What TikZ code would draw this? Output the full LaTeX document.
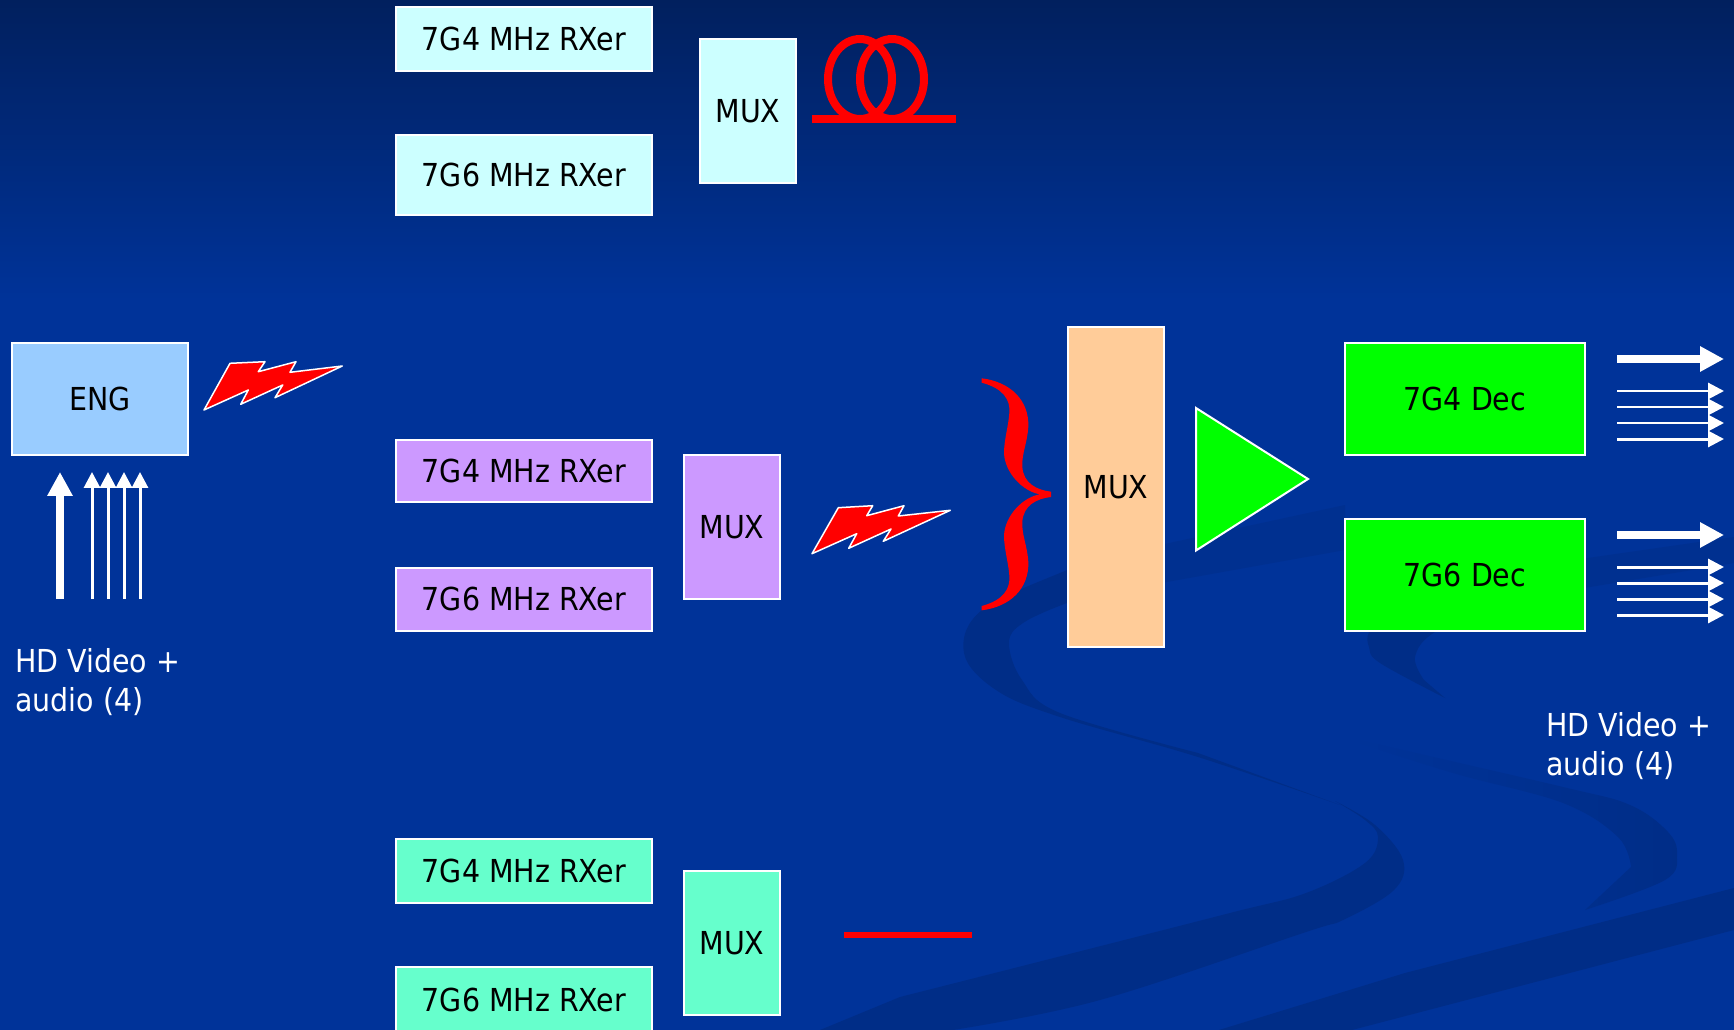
\documentclass[tikz,border=0pt]{standalone}
\usepackage{xcolor}
\usepackage{fontspec}
\setmainfont{DejaVu Sans Condensed}
\usepackage{tikz}
\usetikzlibrary{arrows.meta, positioning}
\definecolor{slidebg}{RGB}{0,51,153}
\definecolor{slidetop}{RGB}{1,32,94}
\definecolor{swoosh}{RGB}{0,45,135}
\definecolor{swooshfaint}{RGB}{0,48,144}
\definecolor{boxcyan}{RGB}{204,255,255}
\definecolor{boxpurple}{RGB}{204,153,255}
\definecolor{boxteal}{RGB}{102,255,204}
\definecolor{boxblue}{RGB}{153,204,255}
\definecolor{boxorange}{RGB}{255,204,153}
\definecolor{boxgreen}{RGB}{0,255,0}
\definecolor{linkred}{RGB}{255,0,0}
\tikzset{
  block/.style={rectangle, draw=white, line width=0.04cm, inner sep=0pt,
    align=center, text=black, font=\fontsize{18}{22}\selectfont},
  rxblock/.style={block, minimum width=5.12cm},
  muxblock/.style={block, minimum width=1.92cm, minimum height=2.88cm},
  decblock/.style={block, fill=boxgreen, minimum width=4.8cm},
  caption/.style={text=white, align=left, anchor=west, inner sep=0pt,
    font=\fontsize{18}{22}\selectfont},
  bigarrow/.style={-{Triangle[width=0.48cm,length=0.48cm]}, white, line width=0.16cm},
  thinarrow/.style={-{Triangle[width=0.32cm,length=0.32cm]}, white, line width=0.06cm},
  redlink/.style={linkred, line width=0.16cm},
  bolt/.style={fill=linkred, draw=white, line width=0.03cm, line join=round}
}
\begin{document}
\begin{tikzpicture}[x=0.02cm, y=-0.02cm]
  \useasboundingbox (0,0) rectangle (1734,1030);
  % background
  \fill[slidebg] (0,0) rectangle (1734,1030);
  \shade[top color=slidetop, bottom color=slidebg] (0,0) rectangle (1734,300);
  \fill[swooshfaint] (1100,558) -- (1345,505) -- (1345,550) -- (1100,594) -- cycle;
  \fill[swoosh] plot[smooth, tension=0.6] coordinates {(1100,558) (1067,570) (982,610) (964,653) (996,690) (1060,717) (1198,757) (1340,805)}
    -- plot[smooth, tension=0.6] coordinates {(1198,753) (1060,713) (1022,680) (1009,643) (1023,623) (1067,603) (1100,594)} -- cycle;
  \fill[swoosh] plot[smooth, tension=0.6] coordinates {(1335,801) (1375,825) (1403,860) (1394,890) (1343,920) (1306,932) (1100,1000) (953,1030)}
    -- (820,1030) -- plot[smooth, tension=0.6] coordinates {(900,997) (1038,962) (1230,913) (1306,893) (1365,863) (1378,837) (1365,820) (1335,801)} -- cycle;
  \fill[swooshfaint] (1560,562) -- (1734,537) -- (1734,563) -- (1560,592) -- cycle;
  \fill[swoosh] plot[smooth, tension=0.6] coordinates {(1560,562) (1450,585) (1385,610) (1369,632) (1369,647) (1380,663) (1445,698)}
    -- plot[smooth, tension=0.6] coordinates {(1424,680) (1415,657) (1435,632) (1500,605) (1560,592)} -- cycle;
  \shade[left color=slidebg, middle color=swoosh, right color=swoosh] plot[smooth, tension=0.6] coordinates {(1350,738) (1563,787) (1630,805) (1668,832) (1677,855) (1665,880) (1585,910)}
    -- plot[smooth, tension=0.6] coordinates {(1631,867) (1618,837) (1563,803) (1453,773) (1350,740)} -- cycle;
  \fill[swoosh] (1219,1030) -- (1405,973) -- (1734,888) -- (1734,930) -- (1352,1030) -- cycle;

  % receivers and muxes
  \node[rxblock, fill=boxcyan, minimum height=1.28cm] (rxtopa) at (524,39) {7G4 MHz RXer};
  \node[rxblock, fill=boxcyan, minimum height=1.6cm, below=1.24cm of rxtopa] (rxtopb) {7G6 MHz RXer};
  \node[muxblock, fill=boxcyan] (muxtop) at (748,111) {MUX};
  \node[rxblock, fill=boxpurple, minimum height=1.24cm] (rxmida) at (524,471) {7G4 MHz RXer};
  \node[rxblock, fill=boxpurple, minimum height=1.26cm, below=1.28cm of rxmida] (rxmidb) {7G6 MHz RXer};
  \node[muxblock, fill=boxpurple] (muxmid) at (732,527) {MUX};
  \node[rxblock, fill=boxteal, minimum height=1.28cm] (rxlowa) at (524,871) {7G4 MHz RXer};
  \node[rxblock, fill=boxteal, minimum height=1.32cm, below=1.24cm of rxlowa] (rxlowb) {7G6 MHz RXer};
  \node[muxblock, fill=boxteal] (muxlow) at (732,943) {MUX};

  \node[block, fill=boxblue, minimum width=3.52cm, minimum height=2.24cm] (eng) at (100,399) {ENG};
  \node[block, fill=boxorange, minimum width=1.92cm, minimum height=6.4cm] (muxmain) at (1116,487) {MUX};
  \node[decblock, minimum height=2.24cm] (decfour) at (1465,399) {7G4 Dec};
  \node[decblock, minimum height=2.24cm] (decsix) at (1465,575) {7G6 Dec};
  \draw[white, line width=0.04cm, fill=boxgreen, line join=miter] (1196,408) -- (1308,479) -- (1196,550.5) -- cycle;

  \node[caption] (capin) at (15,682) {HD Video +\\audio (4)};
  \node[caption] (capout) at (1546,746) {HD Video +\\audio (4)};

  % fibre coil
  \draw[redlink] (860,79) ellipse [x radius=32, y radius=40];
  \draw[redlink] (892,79) ellipse [x radius=32, y radius=40];
  \coordinate (coilstart) at (812,119);
  \coordinate (coilend) at (956,119);
  \draw[redlink] (coilstart) -- (coilend);

  % copper link
  \coordinate (wirestart) at (844,935);
  \coordinate (wireend) at (972,935);
  \draw[linkred, line width=0.12cm] (wirestart) -- (wireend);

  % radio links
  \draw[bolt] (204,410) -- (230,363.3) -- (265,361.7) -- (258.3,371.7) -- (296,361.7) -- (290,372.3) -- (342.3,366) -- (275,397.7) -- (282.7,385) -- (240.7,404.3) -- (248.3,390) -- cycle;
  \draw[bolt] (812,553.7) -- (838.3,507.7) -- (872.7,505.7) -- (866.7,515.7) -- (904,505.7) -- (898.3,516) -- (950.3,510.3) -- (883.3,541.3) -- (891,529) -- (848.7,548.3) -- (856.7,533.7) -- cycle;

  % combining brace
  \fill[linkred] (981.7,378.3) .. controls (1010,381.7) and (1029.3,400) .. (1028.3,426.7)
    .. controls (1027.3,443.3) and (1021.7,453.3) .. (1022.3,466.7)
    .. controls (1023.3,483.3) and (1036.7,490) .. (1051,491.7) -- (1051,497)
    .. controls (1036.7,498.6) and (1023.3,505.3) .. (1022.3,521.9)
    .. controls (1021.7,535.3) and (1027.3,545.3) .. (1028.3,561.9)
    .. controls (1029.3,588.6) and (1010,606.9) .. (981.7,610.3) -- (981.7,606)
    .. controls (1003.3,600.3) and (1010.7,588.6) .. (1009.3,575.3)
    .. controls (1008.3,561.9) and (1004,548.6) .. (1004,535.3)
    .. controls (1005,515.3) and (1023.3,496.9) .. (1040,494.3)
    .. controls (1023.3,491.7) and (1005,473.3) .. (1004,453.3)
    .. controls (1004,440) and (1008.3,426.7) .. (1009.3,413.3)
    .. controls (1010.7,400) and (1003.3,388.3) .. (981.7,382.7) -- cycle;

  % inputs
  \coordinate (inbig) at (60,599);
  \coordinate (inbigtip) at (60,472);
  \draw[bigarrow] (inbig) -- (inbigtip);
  \foreach \x in {92,108,124,140} {
    \coordinate (in\x) at (\x,599);
    \coordinate (intip\x) at (\x,472);
    \draw[thinarrow] (in\x) -- (intip\x);
  }

  % outputs
  \foreach \y in {359,535} {
    \coordinate (out\y) at (1617,\y);
    \coordinate (outtip\y) at (1724,\y);
    \draw[bigarrow] (out\y) -- (outtip\y);
  }
  \foreach \y in {391,407,423,439,567,583,599,615} {
    \coordinate (out\y) at (1617,\y);
    \coordinate (outtip\y) at (1724,\y);
    \draw[thinarrow] (out\y) -- (outtip\y);
  }
\end{tikzpicture}
\end{document}
